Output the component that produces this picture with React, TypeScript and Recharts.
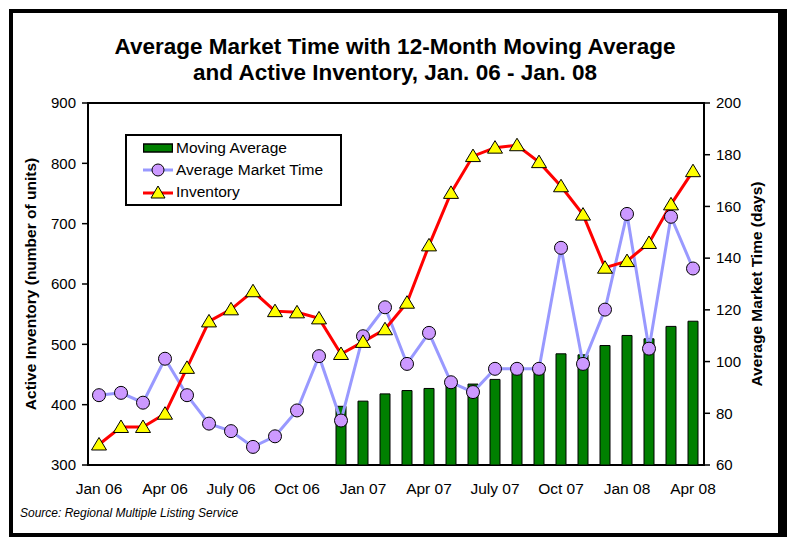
import {
  Bar,
  ComposedChart,
  Legend,
  Line,
  ReferenceArea,
  XAxis,
  YAxis,
} from 'recharts'

const months = [
  'Jan 06', 'Feb 06', 'Mar 06', 'Apr 06', 'May 06', 'June 06', 'July 06',
  'Aug 06', 'Sept 06', 'Oct 06', 'Nov 06', 'Dec 06', 'Jan 07', 'Feb 07',
  'Mar 07', 'Apr 07', 'May 07', 'June 07', 'July 07', 'Aug 07', 'Sept 07',
  'Oct 07', 'Nov 07', 'Dec 07', 'Jan 08', 'Feb 08', 'Mar 08', 'Apr 08',
]

const labelMonths = [
  'Jan 06', 'Apr 06', 'July 06', 'Oct 06', 'Jan 07',
  'Apr 07', 'July 07', 'Oct 07', 'Jan 08', 'Apr 08',
]

// active inventory (units, left axis)
const inventory = [
  334, 363, 363, 385, 461, 538, 558, 588, 555, 553, 543, 484, 504, 525,
  569, 664, 751, 812, 826, 830, 802, 762, 715, 627, 638, 668, 732, 787,
]

// average market time (days, right axis)
const marketTime = [
  87.0, 87.9, 84.1, 101.1, 87.0, 76.0, 73.1, 67.0, 71.1, 81.1, 102.1, 77.2,
  109.8, 121.0, 99.1, 111.1, 92.0, 88.2, 97.2, 97.2, 97.2, 144.0, 99.1, 120.1,
  157.1, 105.0, 156.0, 136.0,
]

// 12-month moving average (days, right axis), starts Dec 06
const movingAverage = [
  null, null, null, null, null, null, null, null, null, null, null,
  82.7, 84.7, 87.5, 88.8, 89.6, 91.1, 91.3, 93.1, 95.8, 97.0, 103.0, 102.6,
  106.2, 110.1, 108.8, 113.6, 115.6,
]

const inventoryTicks = [300, 400, 500, 600, 700, 800, 900]
const daysTicks = [60, 80, 100, 120, 140, 160, 180, 200]

const seriesNames = ['Moving Average', 'Average Market Time', 'Inventory']

const data = months.map((month, i) => ({
  month,
  pos: i + 0.5,
  inventory: inventory[i],
  marketTime: marketTime[i],
  movingAverage: movingAverage[i],
}))

const boundaryTicks = [...months.map((_, i) => i), months.length]
const labelTicks = labelMonths.map((m) => months.indexOf(m) + 0.5)

const font = 'Arial, "Liberation Sans", sans-serif'

function Triangle(props: any) {
  const { cx, cy, index } = props
  if (cx == null || cy == null) return null
  return (
    <polygon
      key={`tri-${index}`}
      points={`${cx},${cy - 7} ${cx + 7.5},${cy + 5.5} ${cx - 7.5},${cy + 5.5}`}
      fill='#ffff00'
      stroke='#000'
      strokeWidth={1}
    />
  )
}

function LegendBox() {
  const row = { display: 'flex', alignItems: 'center', height: 22 }
  return (
    <div
      style={{
        border: '2px solid #000',
        background: '#fff',
        width: 217,
        height: 72,
        boxSizing: 'border-box',
        paddingTop: 1,
        fontSize: 15.5,
        color: '#000',
      }}
    >
      <div style={row}>
        <svg width={30} height={14} style={{ marginLeft: 16, marginRight: 3 }}>
          <rect x={0.5} y={3} width={29} height={8} fill='#008000' stroke='#000' strokeWidth={1.5} />
        </svg>
        {seriesNames[0]}
      </div>
      <div style={row}>
        <svg width={30} height={14} style={{ marginLeft: 16, marginRight: 3 }}>
          <line x1={0} y1={7} x2={30} y2={7} stroke='#9999ff' strokeWidth={3} />
          <circle cx={15} cy={7} r={6} fill='#cc99ff' stroke='#000' strokeWidth={1} />
        </svg>
        {seriesNames[1]}
      </div>
      <div style={row}>
        <svg width={30} height={14} style={{ marginLeft: 16, marginRight: 3 }}>
          <line x1={0} y1={8} x2={30} y2={8} stroke='#ff0000' strokeWidth={3} />
          <polygon points='15,1 22,13 8,13' fill='#ffff00' stroke='#000' strokeWidth={1} />
        </svg>
        {seriesNames[2]}
      </div>
    </div>
  )
}

export default function App() {
  return (
    <div
      style={{
        position: 'absolute',
        left: 0,
        top: 0,
        width: 787,
        height: 537,
        background: '#fff',
        fontFamily: font,
        overflow: 'hidden',
      }}
    >
      <div
        style={{
          position: 'absolute',
          left: 9,
          top: 9,
          width: 778,
          height: 528,
          boxSizing: 'border-box',
          borderTop: '4px solid #000',
          borderLeft: '4px solid #000',
          borderRight: '9px solid #000',
          borderBottom: '4px solid #000',
        }}
      />
      <div
        style={{
          position: 'absolute',
          left: 0,
          top: 34,
          width: 790,
          textAlign: 'center',
          fontSize: 22.5,
          fontWeight: 'bold',
          lineHeight: '26px',
          color: '#000',
        }}
      >
        Average Market Time with 12-Month Moving Average
        <br />
        and Active Inventory, Jan. 06 - Jan. 08
      </div>
      <ComposedChart
        width={787}
        height={537}
        data={data}
        margin={{ top: 103, right: 23, bottom: 42, left: 28 }}
      >
        <XAxis
          xAxisId='bounds'
          type='number'
          domain={[0, months.length]}
          ticks={boundaryTicks}
          tickFormatter={() => ''}
          height={0}
          tickSize={6}
          axisLine={{ stroke: '#000', strokeWidth: 2 }}
          tickLine={{ stroke: '#000', strokeWidth: 1.5 }}
        />
        <XAxis
          xAxisId='main'
          type='number'
          dataKey='pos'
          domain={[0, months.length]}
          ticks={labelTicks}
          tickFormatter={(v) => months[Math.floor(v)]}
          height={30}
          axisLine={false}
          tickLine={false}
          tickSize={6}
          tickMargin={12}
          interval={0}
          tick={{ fill: '#000', fontSize: 15.5 }}
        />
        <YAxis
          yAxisId='left'
          domain={[300, 900]}
          ticks={inventoryTicks}
          interval={0}
          width={60}
          tickSize={6}
          tickMargin={6}
          axisLine={{ stroke: '#000', strokeWidth: 2 }}
          tickLine={{ stroke: '#000', strokeWidth: 1.5 }}
          tick={{ fill: '#000', fontSize: 15 }}
          label={{
            value: 'Active Inventory (number of units)',
            angle: -90,
            position: 'insideLeft',
            offset: 2.5,
            style: { textAnchor: 'middle', fontWeight: 'bold', fontSize: 15.5, fill: '#000' },
          }}
        />
        <YAxis
          yAxisId='right'
          orientation='right'
          domain={[60, 200]}
          ticks={daysTicks}
          interval={0}
          width={60}
          tickSize={6}
          tickMargin={6}
          axisLine={{ stroke: '#000', strokeWidth: 2 }}
          tickLine={{ stroke: '#000', strokeWidth: 1.5 }}
          tick={{ fill: '#000', fontSize: 15 }}
          label={{
            value: 'Average Market Time (days)',
            angle: -90,
            position: 'insideRight',
            offset: 8,
            style: { textAnchor: 'middle', fontWeight: 'bold', fontSize: 15.5, fill: '#000' },
          }}
        />
        <ReferenceArea
          xAxisId='main'
          yAxisId='left'
          x1={0}
          x2={months.length}
          y1={300}
          y2={900}
          fill='none'
          fillOpacity={0}
          stroke='#000'
          strokeWidth={2}
        />
        <Legend
          layout='vertical'
          align='center'
          verticalAlign='middle'
          content={<LegendBox />}
          wrapperStyle={{ left: 125, top: 134, width: 217, height: 72 }}
        />
        <Bar
          xAxisId='main'
          yAxisId='right'
          dataKey='movingAverage'
          name={seriesNames[0]}
          barSize={10}
          fill='#008000'
          stroke='#000'
          strokeWidth={1}
          isAnimationActive={false}
        />
        <Line
          xAxisId='main'
          yAxisId='right'
          dataKey='marketTime'
          name={seriesNames[1]}
          stroke='#9999ff'
          strokeWidth={3}
          dot={{ r: 6.5, fill: '#cc99ff', stroke: '#000', strokeWidth: 1 }}
          activeDot={false}
          isAnimationActive={false}
        />
        <Line
          xAxisId='main'
          yAxisId='left'
          dataKey='inventory'
          name={seriesNames[2]}
          stroke='#ff0000'
          strokeWidth={3}
          dot={Triangle}
          activeDot={false}
          isAnimationActive={false}
        />
      </ComposedChart>
      <div
        style={{
          position: 'absolute',
          left: 20,
          top: 506,
          fontSize: 12,
          fontStyle: 'italic',
          color: '#000',
        }}
      >
        Source: Regional Multiple Listing Service
      </div>
    </div>
  )
}
